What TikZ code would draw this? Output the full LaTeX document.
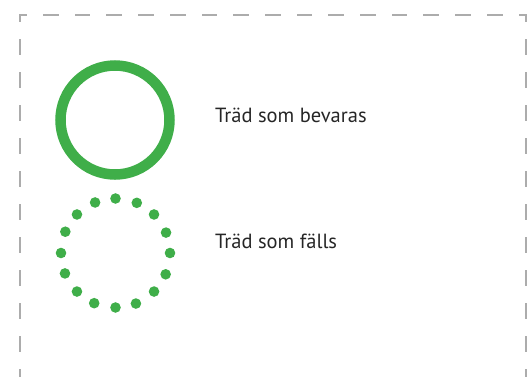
\documentclass[tikz,border=0pt]{standalone}
\usepackage{fontspec}
\setmainfont{PT Sans}
\definecolor{treegreen}{RGB}{63,174,73}
\definecolor{framegray}{RGB}{172,172,172}

\begin{document}
\begin{tikzpicture}[x=1pt,y=-1pt,
	frame/.style={framegray,line width=2pt,line cap=rect},
	tree/.style={circle,minimum size=109pt,inner sep=0pt,outer sep=0pt},
	legend/.style={anchor=base west,inner sep=0pt,font=\fontsize{20.5}{24}\selectfont,text=black!85}]
	\useasboundingbox (0,0) rectangle (527,376);
	% dashed frame, bottom edge lies below the picture
	\coordinate (tl) at (20,14.5);
	\coordinate (tr) at (526,14.5);
	\draw[frame,dash pattern=on 13.7pt off 18pt,dash phase=7.7pt] (tl) -- (tr);
	\draw[frame,dash pattern=on 14pt off 19pt,dash phase=7.5pt] (tl) -- ++(0,400);
	\draw[frame,dash pattern=on 14pt off 19pt,dash phase=7.5pt] (tr) -- ++(0,400);

	\node[tree,draw=treegreen,line width=10.5pt] at (115,120) (kept) {};
	\node[tree] at (115.5,253) (felled) {};
	\foreach \a in {0,22.5,...,337.5}
		\fill[treegreen] (felled.\a) circle (5.3pt);

	\node[legend] at (215,122.7) (keptlabel) {Träd som bevaras};
	\node[legend] at (215,248) (felledlabel) {Träd som fälls};
	%\draw[red] (keptlabel.base west) -- ++(153,0);
\end{tikzpicture}
\end{document}
